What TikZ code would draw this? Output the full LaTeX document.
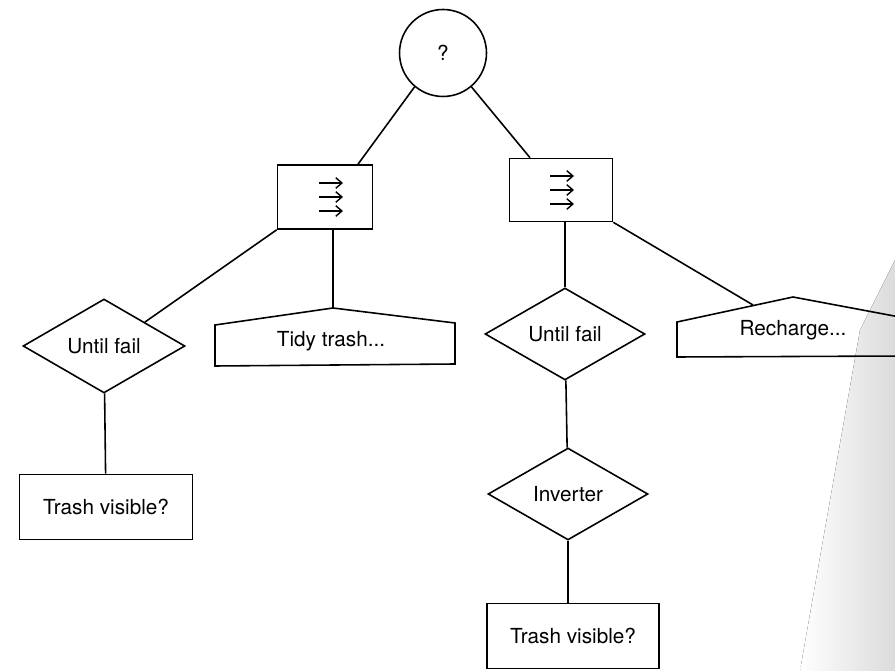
\documentclass[tikz,border=0pt]{standalone}
\usepackage{fontspec}
\setmainfont{TeX Gyre Heros}
\usepackage{tikz}
\usetikzlibrary{arrows.meta,calc,shapes.geometric}

\begin{document}
\begin{tikzpicture}[x=0.02cm,y=-0.02cm,line width=0.9pt]
 		\tikzstyle{every node}=[font=\fontsize{11.8}{13}\selectfont,inner sep=0pt]
 		\tikzstyle{selector}=[draw,circle,minimum size=1.74cm]
 		\tikzstyle{seqbox}=[draw,rectangle,minimum width=1.9cm,minimum height=1.28cm]
 		\tikzstyle{decorator}=[draw,diamond,minimum width=3.24cm,minimum height=1.88cm]
 		\tikzstyle{condition}=[draw,rectangle,minimum width=3.46cm,minimum height=1.3cm]
 		\tikzstyle{seqarrow}=[-{Straight Barb[length=3.5pt,width=6pt]},line width=0.8pt]
 		\useasboundingbox (0,0) rectangle (895,671);

 		% page shading of the scan
 		\fill[left color=white,right color=black!14,draw=none] (895,260) -- (860,330) -- (800,671) -- (895,671) -- cycle;

 		\node[selector] (root) at (443,53) {?};
 		\node[seqbox] (seqL) at (325,197) {};
 		\node[seqbox,minimum width=2.06cm,minimum height=1.26cm] (seqR) at (561,190) {};
 		\foreach \dy in {-14,0,14} {
 			\draw[seqarrow] ($(seqL)+(-6,\dy)$) -- ++(24,0);
 			\draw[seqarrow] ($(seqR)+(-11,\dy)$) -- ++(24,0);
 		}

 		\node[decorator] (untilL) at (104,346) {Until fail};
 		\node[condition] (trashL) at (106,507) {Trash visible?};

 		\node[decorator,minimum width=3.2cm,minimum height=1.84cm] (untilR) at (565,334) {Until fail};
 		\node[decorator,minimum width=3.2cm,minimum height=1.84cm] (inverter) at (568,494) {Inverter};
 		\node[condition,minimum width=3.44cm] (trashR) at (573,636) {Trash visible?};

 		% actions
 		\coordinate (tidytop) at (333,308);
 		\draw (215,366) -- (215,325) -- (tidytop) -- (455,323) -- (455,364) -- cycle;
 		\node (tidy) at (331,341) {Tidy trash...};
 		\coordinate (rechargetop) at (793,297);
 		\draw (905,356) -- (677,357) -- (677,322) -- (rechargetop) -- (905,318);
 		\node (recharge) at (793,330) {Recharge...};
 		\coordinate (rechargein) at (753,305);

 		\draw (root.230) -- ([xshift=0.66cm]seqL.north);
 		\draw (root.-50) -- ([xshift=-0.62cm]seqR.north);
 		\draw (seqL.south west) -- (untilL.north east);
 		\draw (seqL.south -| tidytop) -- (tidytop);
 		\draw (untilL) -- (trashL);
 		\draw (seqR.south -| untilR.north) -- (untilR);
 		\draw (seqR.south east) -- (rechargein);
 		\draw (untilR) -- (inverter);
 		\draw (inverter) -- (trashR.north -| inverter.south);
\end{tikzpicture}
\end{document}
